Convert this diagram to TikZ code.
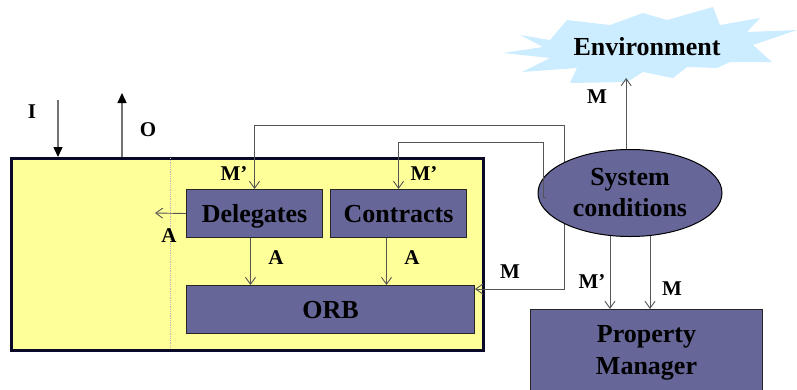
\documentclass[tikz,border=0pt]{standalone}
\usepackage{fontspec}
\setmainfont{Liberation Serif}
\usetikzlibrary{arrows.meta,shapes.geometric}
\definecolor{boxfill}{RGB}{102,102,153}
\definecolor{yel}{RGB}{255,255,153}
\definecolor{sky}{RGB}{204,236,255}
\definecolor{ln}{RGB}{85,85,85}
\definecolor{frame}{RGB}{10,10,40}
\tikzset{
  pbox/.style={draw=black!85, fill=boxfill, line width=1pt, inner sep=0pt,
    font=\fontsize{26}{32}\selectfont\bfseries, align=center},
  lbl/.style={font=\fontsize{21}{24}\selectfont\bfseries, inner sep=0pt},
  arr/.style={draw=ln, line width=0.9pt, -{Straight Barb[length=7pt,width=10pt,line width=0.9pt]}},
  ioarr/.style={draw=gray!90!black, line width=1.4pt, -{Triangle[length=10pt,width=9pt,color=black]}}
}
\begin{document}
\begin{tikzpicture}[x=1pt,y=-1pt]
\useasboundingbox (0,0) rectangle (797,389);

% Environment starburst
\fill[sky] (503,53) -- (543,47) -- (520,35) -- (550,40) -- (567,20) -- (610,25)
  -- (643,13) -- (667,20) -- (713,7) -- (720,25) -- (760,18) -- (747,32)
  -- (797,30) -- (753,45) -- (772,62) -- (730,62) -- (717,68) -- (687,67)
  -- (673,78) -- (643,72) -- (627,82) -- (570,83) -- (577,68) -- (522,72)
  -- (550,58) -- cycle;
\node[font=\fontsize{26}{32}\selectfont\bfseries, inner sep=0pt] (env) at (647,47) {Environment};
\coordinate (envb) at (626,78);

% main yellow box
\node[draw=frame, fill=yel, line width=2.8pt, anchor=north west,
      minimum width=472pt, minimum height=192pt, inner sep=0pt] (yb) at (10,157) {};
\coordinate (dtop) at (170,158);
\coordinate (dbot) at (170,348);
\draw[gray!55, densely dotted, line width=0.8pt] (dtop) -- (dbot);

% I / O
\coordinate (i0) at (58,100);
\coordinate (o0) at (122,93);
\draw[ioarr] (i0) -- (i0 |- yb.north);
\draw[ioarr] (o0 |- yb.north) -- (o0);
\node[lbl] (lI) at (32,112) {I};
\node[lbl] (lO) at (148,130) {O};

% boxes
\node[pbox, text depth=0pt, anchor=north west, minimum width=136pt, minimum height=48pt] (del) at (186,189) {Delegates};
\node[pbox, text depth=0pt, anchor=north west, minimum width=136pt, minimum height=48pt] (con) at (330,189) {Contracts};
\node[pbox, text depth=0pt, anchor=north west, minimum width=288pt, minimum height=48pt] (orb) at (186,285) {ORB};
\node[pbox, anchor=north west, minimum width=232pt, minimum height=86pt] (pm) at (530,309) {Property\\Manager};

% lines from system conditions behind ellipse
\coordinate (sc) at (630,193);
\coordinate (k1) at (564,125);
\coordinate (k3) at (564,289);
\draw[arr] (sc) -| (k1) -| (del.north);
\draw[arr] (sc) -| (k3) -- (k3 -| orb.east);

\node[ellipse, draw=black, fill=boxfill, line width=1pt, minimum width=184pt,
      minimum height=87pt, inner sep=0pt, font=\fontsize{26}{31}\selectfont\bfseries,
      align=center] (scn) at (sc) {System\\conditions};

\coordinate (c1) at (546,197);
\coordinate (k2) at (543,142);
\draw[arr] (c1) -| (k2) -| (con.north);

% inner arrows
\coordinate (a0) at (155,213);
\draw[arr] (del.west) -- (a0);
\draw[arr] ([xshift=-4pt]del.south) -- ([xshift=-4pt]del.south |- orb.north);
\draw[arr] ([xshift=-12pt]con.south) -- ([xshift=-12pt]con.south |- orb.north);

% system conditions outputs
\draw[arr] (scn.95) -- (scn.95 |- envb);
\draw[arr] (scn.245) -- (scn.245 |- pm.north);
\draw[arr] (scn.295) -- (scn.295 |- pm.north);

% labels
\node[lbl] (l1) at (234,174) {M'};
\node[lbl] (l2) at (424,174) {M'};
\node[lbl] (l3) at (169,236) {A};
\node[lbl] (l4) at (276,258) {A};
\node[lbl] (l5) at (412,258) {A};
\node[lbl] (l6) at (510,272) {M};
\node[lbl] (l7) at (597,97) {M};
\node[lbl] (l8) at (592,282) {M'};
\node[lbl] (l9) at (672,289) {M};
\end{tikzpicture}
\end{document}
